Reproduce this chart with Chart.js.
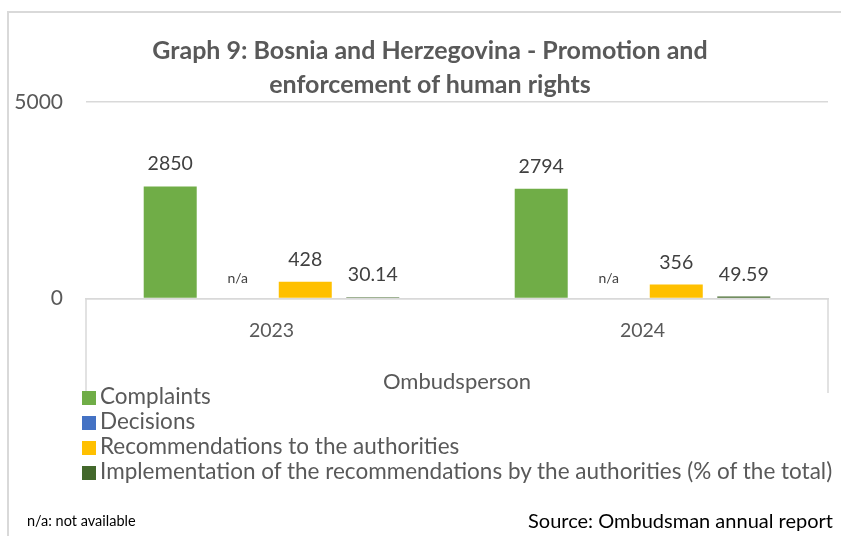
<!DOCTYPE html>
<html>
<head>
<meta charset="utf-8">
<script src="https://cdn.jsdelivr.net/npm/chart.js@4.4.1/dist/chart.umd.min.js"></script>
<style>
  html, body { margin: 0; padding: 0; background: #fff; }
  #wrap { position: relative; width: 841px; height: 536px; overflow: hidden; font-family: Lato, sans-serif; }
  #frame { position: absolute; left: 7px; top: 11px; right: -10px; bottom: -10px;
           border-top: 2px solid #d9d9d9; border-left: 2px solid #d9d9d9; }
  #chartBox { position: absolute; left: 0; top: 0; width: 841px; height: 536px; }
  #title { position: absolute; left: 0; width: 860px; top: 32px; text-align: center;
           color: #595959; font-size: 25px; font-weight: bold; line-height: 34px; }
  #legend { position: absolute; left: 82px; top: 383px; color: #595959; font-size: 22.5px; }
  #legend .row { height: 25px; line-height: 25px; white-space: nowrap; }
  #legend .sw { display: inline-block; width: 14px; height: 14px; margin-right: 4px; vertical-align: -1px; }
  #note { position: absolute; left: 27px; top: 512px; font-size: 14.5px; color: #000; }
  #source { position: absolute; right: 8px; top: 508px; font-size: 20px; color: #000; }
</style>
</head>
<body>
<div id="wrap">
  <div id="frame"></div>
  <div id="chartBox"><canvas id="ombChart"></canvas></div>
  <div id="title">Graph 9: Bosnia and Herzegovina - Promotion and<br>enforcement of human rights</div>
  <div id="legend"></div>
  <div id="note">n/a: not available</div>
  <div id="source">Source: Ombudsman annual report</div>
</div>
<script>
// ── data ──────────────────────────────────────────────
var years        = ['2023', '2024'];
var complaints   = [2850, 2794];
var decisions    = [null, null];          // not available
var recommend    = [428, 356];
var implemented  = [30.14, 49.59];
var yTicks       = [0, 5000];

var seriesNames  = ['Complaints', 'Decisions', 'Recommendations to the authorities',
                    'Implementation of the recommendations by the authorities (% of the total)'];
var seriesColors = ['#70AD47', '#4472C4', '#FFC000', '#43682B'];

var FONT = 'Lato';

// value labels above bars ("n/a" for missing values)
var valueLabels = {
    id: 'valueLabels',
    afterDatasetsDraw: function (chart) {
        var c = chart.ctx;
        var yScale = chart.scales.y;
        c.save();
        c.textAlign = 'center';
        c.textBaseline = 'alphabetic';
        c.fillStyle = '#404040';
        chart.data.datasets.forEach(function (ds, di) {
            chart.getDatasetMeta(di).data.forEach(function (el, i) {
                var v = ds.data[i];
                if (v === null) {
                    c.font = '14px ' + FONT;
                    c.fillText('n/a', el.x, yScale.getPixelForValue(0) - 16);
                } else {
                    c.font = '19.5px ' + FONT;
                    c.fillText(String(v), el.x, el.y - 16);
                }
            });
        });
        c.restore();
    }
};

// side lines of the category axis box
var axisBox = {
    id: 'axisBox',
    afterDraw: function (chart) {
        var a = chart.chartArea;
        var c = chart.ctx;
        c.save();
        c.strokeStyle = '#d9d9d9';
        c.lineWidth = 1.5;
        c.beginPath();
        c.moveTo(a.left, a.bottom);  c.lineTo(a.left, 393);
        c.moveTo(a.right, a.bottom); c.lineTo(a.right, 393);
        c.stroke();
        c.restore();
    }
};

var datasets = [complaints, decisions, recommend, implemented].map(function (d, i) {
    return {
        label: seriesNames[i],
        data: d,
        backgroundColor: seriesColors[i],
        categoryPercentage: 0.728,
        barPercentage: 0.785
    };
});

var chart = new Chart(document.getElementById('ombChart'), {
    type: 'bar',
    data: { labels: years, datasets: datasets },
    plugins: [valueLabels, axisBox],
    options: {
        responsive: true,
        maintainAspectRatio: false,
        animation: false,
        layout: { padding: { left: 0, right: 13, top: 102, bottom: 137.5 } },
        plugins: {
            legend: { display: false },
            tooltip: { enabled: false }
        },
        scales: {
            x: {
                grid: { display: false },
                border: { display: true, color: '#d9d9d9', width: 1.5 },
                ticks: { color: '#595959', font: { family: FONT, size: 19.5 }, padding: 13 },
                title: {
                    display: true, text: 'Ombudsperson', color: '#595959',
                    font: { family: FONT, size: 22 }, padding: { top: 12, bottom: 3 }
                },
                afterFit: function (s) { s.height = 100; }
            },
            y: {
                min: yTicks[0], max: yTicks[yTicks.length - 1],
                afterBuildTicks: function (s) { s.ticks = yTicks.map(function (v) { return { value: v }; }); },
                grid: { color: '#d9d9d9', lineWidth: 1.5, drawTicks: false },
                border: { display: false },
                ticks: {
                    color: '#595959', font: { family: FONT, size: 21 }, padding: 23,
                    callback: function (v) { return String(v); }
                },
                afterFit: function (s) { s.width = 86; }
            }
        }
    }
});

// legend, one entry per row
var lg = document.getElementById('legend');
chart.data.datasets.forEach(function (ds) {
    var row = document.createElement('div');
    row.className = 'row';
    var sw = document.createElement('span');
    sw.className = 'sw';
    sw.style.background = ds.backgroundColor;
    row.appendChild(sw);
    row.appendChild(document.createTextNode(ds.label));
    lg.appendChild(row);
});
</script>
</body>
</html>
